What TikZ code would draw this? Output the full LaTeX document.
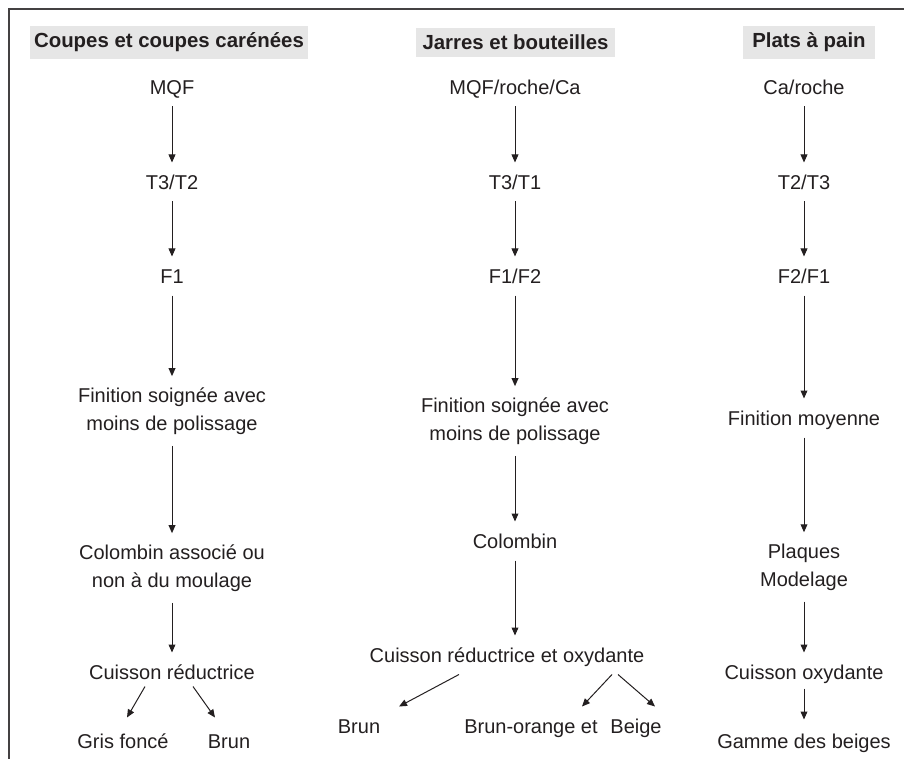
\documentclass[tikz,border=0pt]{standalone}
\usepackage{fontspec}
\setmainfont{Liberation Sans}
\usetikzlibrary{arrows.meta,calc}

\definecolor{texto}{HTML}{231F20}
\definecolor{fondotit}{HTML}{E6E6E6}

\tikzset{
    etapa/.style={inner xsep=3pt, inner ysep=3.7pt, text height=9.5pt, text depth=2.2pt, text=texto},
    etapados/.style={align=center, inner xsep=3pt, inner ysep=5.5pt, text=texto},
    titulo/.style={fill=fondotit, text=texto, font=\fontsize{10.2}{12}\selectfont\bfseries,
        minimum height=14.5pt, inner xsep=2pt},
    flecha/.style={-{Triangle[length=4pt,width=3.4pt]}, line width=0.5pt, draw=texto},
}

\begin{document}
\begin{tikzpicture}[x=0.5pt, y=-0.5pt, font=\fontsize{10}{14}\selectfont]
    \useasboundingbox (0,0) rectangle (904,759);

    % 1. MARCO (solo lados superior e izquierdo)
    \draw[line width=0.75pt, texto!85] (9,759) -- (9,9) -- (904,9);

    % 2. COLUMNA 1: COUPES
    \node[titulo, minimum width=139pt] (c1tit) at (169,42.5) {Coupes et coupes carénées};
    \node[etapa] (c1mqf) at (172,87) {MQF};
    \node[etapa] (c1t) at (172,182) {T3/T2};
    \node[etapa] (c1f) at (172,276) {F1};
    \node[etapados] (c1fin) at (172,411) {Finition soignée avec\\moins de polissage};
    \node[etapados] (c1col) at (172,568) {Colombin associé ou\\non à du moulage};
    \node[etapa] (c1cuis) at (172,672) {Cuisson réductrice};
    \node[etapa] (c1gris) at (123,741) {Gris foncé};
    \node[etapa] (c1brun) at (229,741) {Brun};

    \foreach \a/\b in {c1mqf/c1t, c1t/c1f, c1f/c1fin, c1fin/c1col, c1col/c1cuis} {
        \draw[flecha] (\a) -- (\b);
    }
    \draw[flecha] ($(c1cuis.south)+(-27,-5)$) -- ($(c1gris.north)+(4,-4)$);
    \draw[flecha] ($(c1cuis.south)+(21,-5)$) -- ($(c1brun.north)+(-14,-4)$);

    % 3. COLUMNA 2: JARRES
    \node[titulo, minimum width=99.5pt] (c2tit) at (515.5,42.5) {Jarres et bouteilles};
    \node[etapa] (c2mqf) at (515,87) {MQF/roche/Ca};
    \node[etapa] (c2t) at (515,182) {T3/T1};
    \node[etapa] (c2f) at (515,276) {F1/F2};
    \node[etapados] (c2fin) at (515,421) {Finition soignée avec\\moins de polissage};
    \node[etapa] (c2col) at (515,541) {Colombin};
    \node[etapa] (c2cuis) at (507,655) {Cuisson réductrice et oxydante};
    \node[etapa] (c2brun) at (359,726) {Brun};
    \node[etapa] (c2bror) at (531,726) {Brun-orange et};
    \node[etapa] (c2beige) at (636,726) {Beige};

    \foreach \a/\b in {c2mqf/c2t, c2t/c2f, c2f/c2fin, c2fin/c2col} {
        \draw[flecha] (\a) -- (\b);
    }
    \draw[flecha] (c2col) -- (c2col |- c2cuis.north);
    \draw[flecha] ($(c2cuis.south)+(-48,0)$) -- ($(c2brun.north)+(40,0)$);
    \draw[flecha] ($(c2cuis.south)+(105,0)$) -- ($(c2bror.north)+(51,0)$);
    \draw[flecha] ($(c2cuis.south)+(111,0)$) -- ($(c2beige.north)+(19,0)$);

    % 4. COLUMNA 3: PLATS
    \node[titulo, minimum width=66pt] (c3tit) at (809,42.5) {Plats à pain};
    \node[etapa] (c3ca) at (804,87) {Ca/roche};
    \node[etapa] (c3t) at (804,182) {T2/T3};
    \node[etapa] (c3f) at (804,276) {F2/F1};
    \node[etapa] (c3fin) at (804,418) {Finition moyenne};
    \node[etapados] (c3pl) at (804,567) {Plaques\\Modelage};
    \node[etapa] (c3cuis) at (804,672) {Cuisson oxydante};
    \node[etapa] (c3gam) at (804,741) {Gamme des beiges};

    \foreach \a/\b in {c3ca/c3t, c3t/c3f, c3f/c3fin, c3fin/c3pl, c3pl/c3cuis} {
        \draw[flecha] (\a) -- (\b);
    }
    \draw[flecha] ($(c3cuis.south)+(0,-3)$) -- ($(c3gam.north)+(0,-2)$);

\end{tikzpicture}
\end{document}
